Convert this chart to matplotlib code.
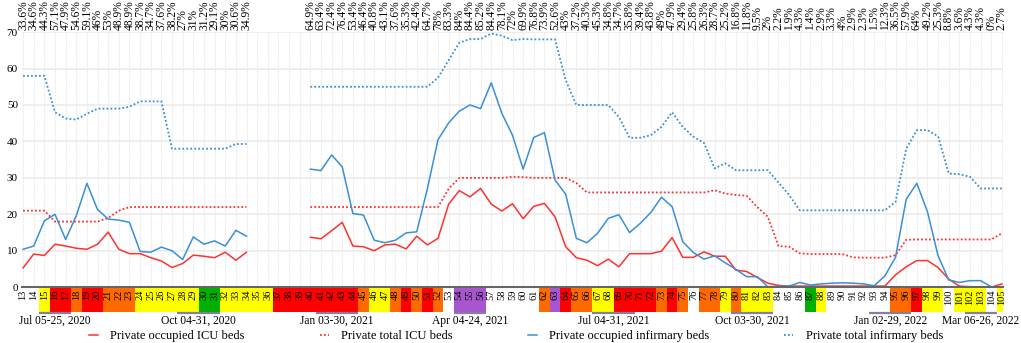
import matplotlib
matplotlib.use("Agg")
import matplotlib.pyplot as plt
from matplotlib.lines import Line2D

plt.rcParams["font.family"] = ["Liberation Serif", "DejaVu Serif"]

# epidemiological weeks with data (two stretches, gap 35-39)
weeks_a = list(range(13, 35))
weeks_b = list(range(40, 106))

icu_occ_a = [5.3, 9.1, 8.7, 11.8, 11.3, 10.7, 10.4, 11.8, 15.1, 10.4, 9.2,
             9.2, 8.1, 7.2, 5.4, 6.5, 8.8, 8.5, 8.1, 9.6, 7.4, 9.6]
icu_tot_a = [21, 21, 21, 18, 18, 18, 18, 18, 19, 21, 22,
             22, 22, 22, 22, 22, 22, 22, 22, 22, 22, 22]
inf_occ_a = [10.4, 11.3, 18.2, 20.0, 13.1, 19.6, 28.5, 21.3, 18.7, 18.4, 17.8,
             9.8, 9.6, 11.0, 10.0, 7.6, 13.8, 11.8, 12.7, 11.3, 15.6, 14.0]
inf_tot_a = [58, 58, 58, 48, 46.3, 46, 47.6, 49, 49, 49, 49.5,
             51, 51, 51, 38, 38, 38, 38, 38, 38, 39.3, 39.3]

icu_occ_b = [13.7, 13.3, 15.5, 17.8, 11.3, 11.1, 10.0, 11.6, 11.8, 10.5,
             14.0, 11.6, 13.4, 22.8, 26.5, 24.8, 27.1, 22.8, 20.9, 22.9,
             18.8, 22.2, 23.0, 19.3, 11.1, 8.1, 7.4, 5.9, 7.7, 5.6,
             9.2, 9.2, 9.2, 9.9, 13.6, 8.2, 8.2, 9.7, 8.5, 8.5,
             4.7, 4.3, 2.7, 1.1, 0.5, 0.3, 0.3, 0.3, 0.3, 0.3,
             0.3, 0.3, 0.3, 0.3, 0.3, 3.4, 5.6, 7.3, 7.3, 5.4,
             2.2, 0.3, 0.1, 0.1, 0.0, 0.9]
icu_tot_b = [22, 22, 22, 22, 22, 22, 22, 22, 22, 22,
             22, 22, 22, 27, 30, 30, 30, 30, 30, 30.3,
             30.2, 30, 30, 30, 30, 28.6, 26, 26, 26, 26,
             26, 26, 26, 26, 26, 26, 26, 26, 26.6, 25.7,
             25.3, 25.1, 22, 19.3, 11.3, 11.1, 9.3, 9.1, 9.1, 9.1,
             9.1, 8.2, 8.1, 8.1, 8.1, 8.8, 13, 13.1, 13.1, 13.1,
             13.1, 13.1, 13.1, 13.1, 13.1, 14.8]
inf_occ_b = [32.4, 32.0, 36.3, 33.0, 20.2, 19.8, 12.9, 12.2, 12.9, 14.9,
             15.2, 27.0, 40.5, 45.1, 48.3, 50.0, 49.0, 56.1, 47.7, 41.7,
             32.4, 41.1, 42.4, 29.4, 25.5, 13.4, 12.2, 14.8, 18.9, 19.9,
             15.0, 17.5, 20.5, 24.7, 22.1, 12.5, 9.5, 7.7, 8.6, 6.7,
             4.9, 2.9, 2.9, 0.1, 0.3, 0.3, 1.3, 0.6, 0.9, 1.1,
             1.2, 1.1, 0.9, 0.4, 3.1, 8.2, 24.1, 28.5, 20.7, 8.6,
             2.0, 1.3, 1.8, 1.8, 0.1, 0.1]
inf_tot_b = [55, 55, 55, 55, 55, 55, 55, 55, 55, 55,
             55, 55, 57.5, 62.3, 67.1, 68.1, 68.1, 69.6, 69.0, 67.8,
             68.1, 68, 68, 68, 56.8, 50, 50, 50, 50, 46.7,
             41, 41, 41.7, 44, 48, 44, 41.3, 39.6, 32.6, 34,
             32.1, 32.1, 32.1, 32.1, 28.7, 25.3, 21.1, 21.1, 21.1, 21.1,
             21.1, 21.1, 21.1, 21.1, 21.1, 23.4, 38, 43.1, 43.1, 41.4,
             31.2, 31, 30.3, 27.1, 27.1, 27.1]

pct_labels = ["33.6%", "34.6%", "44.3%", "57.1%", "47.9%", "54.6%", "59.1%", "46%",
              "53%", "48.9%", "48.9%", "38.7%", "34.7%", "37.6%", "38.2%", "27%",
              "31%", "31.2%", "29.1%", "30%", "30.6%", "34.9%",
              "64.9%", "63.4%", "72.4%", "76.4%", "53.4%", "46.4%", "40.8%", "43.1%",
              "37.6%", "35.3%", "42.4%", "64.7%", "78%", "83.3%", "84%", "84.4%",
              "85.2%", "84.4%", "78.1%", "72%", "69.9%", "76.8%", "73.9%", "52.6%",
              "43%", "37.2%", "40.3%", "45.3%", "34.8%", "34.7%", "35.8%", "39.4%",
              "43.8%", "49%", "47.9%", "29.4%", "25.8%", "26.3%", "28.7%", "25.2%",
              "16.8%", "11.8%", "9.5%", "2%", "2.2%", "1.9%", "4.3%", "1.4%",
              "2.9%", "3.3%", "4%", "2.9%", "2.3%", "1.5%", "12.3%", "36.5%",
              "57.9%", "64%", "49.2%", "25.3%", "8.8%", "3.6%", "4.3%", "4.3%",
              "0%", "2.7%"]

# alert level of each week 13..105 (W none, Y yellow, O orange, R red, G green, P purple)
week_all = list(range(13, 106))
week_level = list("WWYRRORROOOYYYYYYGGYYYYYRRRRRRRROYYORORO"
                  "WPPPWWWWWOPROOYYRRRRORO" "WOOYOYYYWWWGYWWWWWWOORYYWYYYWY")

periods = ["Jul 05-25, 2020", "Oct 04-31, 2020", "Jan 03-30, 2021", "Apr 04-24, 2021",
           "Jul 04-31, 2021", "Oct 03-30, 2021", "Jan 02-29, 2022", "Mar 06-26, 2022"]
period_start = [15, 28, 41, 54, 67, 80, 93, 102]
period_end = [17, 31, 44, 56, 70, 83, 96, 104]

RED = "#ff3030"
BLUE = "#3a8fd6"
level_colors = {"W": "none", "Y": "#ffff00", "O": "#ff6a00", "R": "#ff0000",
                "G": "#00b000", "P": "#a855d0"}

W, H = 1021, 343
fig = plt.figure(figsize=(W / 100, H / 100), dpi=100)
ax = fig.add_axes([22 / W, 1 - 287.2 / H, 981 / W, 255.1 / H])

for wk, occ, tot, color in [(weeks_a, icu_occ_a, icu_tot_a, RED),
                             (weeks_b, icu_occ_b, icu_tot_b, RED),
                             (weeks_a, inf_occ_a, inf_tot_a, BLUE),
                             (weeks_b, inf_occ_b, inf_tot_b, BLUE)]:
    ax.plot(wk, occ, color=color, lw=1.1)
    ax.plot(wk, tot, color=color, lw=1.3, linestyle=(0, (1, 1.2)))

ax.set_xlim(12.9, 105.1)
ax.set_ylim(0, 70)
ax.set_xticks(week_all)
ax.set_yticks(range(0, 71, 10))
ax.tick_params(axis="x", length=0, labelbottom=False)
ax.tick_params(axis="y", length=0, labelsize=8, pad=3)
ax.grid(axis="y", color="#ebebeb", lw=1.2)
ax.grid(axis="x", color="#e4e4e4", lw=0.8, linestyle=(0, (1, 1)))
ax.set_axisbelow(True)
for side in ["top", "right", "left"]:
    ax.spines[side].set_visible(False)
ax.spines["bottom"].set_color("#666666")
ax.spines["bottom"].set_linewidth(1.5)

for wk, lab in zip(weeks_a + weeks_b, pct_labels):
    ax.annotate(lab, (wk, 70), xytext=(0, 1.2), textcoords="offset points",
                rotation=90, ha="center", va="bottom", fontsize=8.3)

# week strip below the axis
strip = fig.add_axes([22 / W, 1 - 312 / H, 981 / W, 24 / H], sharex=ax)
strip.bar(week_all, [1] * len(week_all), width=1.0,
          color=[level_colors[c] for c in week_level], linewidth=0)
strip.set_ylim(0, 1)
strip.axis("off")
for wk in week_all:
    strip.text(wk, 0.94, str(wk), rotation=90, ha="center", va="top", fontsize=7.5)

for lab, s, e in zip(periods, period_start, period_end):
    strip.plot([s - 0.5, e + 0.5], [-0.05, -0.05], color="#8080a0", lw=1.6,
               clip_on=False, solid_capstyle="butt")
    strip.text((s + e) / 2, -0.37, lab, ha="center", va="center", fontsize=8.3)

handles = [Line2D([], [], color=RED, lw=1.1),
           Line2D([], [], color=RED, lw=1.3, linestyle=(0, (1, 1.2))),
           Line2D([], [], color=BLUE, lw=1.1),
           Line2D([], [], color=BLUE, lw=1.3, linestyle=(0, (1, 1.2)))]
names = ["Private occupied ICU beds", "Private total ICU beds",
         "Private occupied infirmary beds", "Private total infirmary beds"]
fig.legend(handles, names, loc="center", bbox_to_anchor=(516 / W, 1 - 336 / H),
           ncol=4, frameon=False, fontsize=9, handlelength=0.7,
           handletextpad=1.0, columnspacing=6.0, borderpad=0, borderaxespad=0)

fig.savefig("out.png", dpi=100)
